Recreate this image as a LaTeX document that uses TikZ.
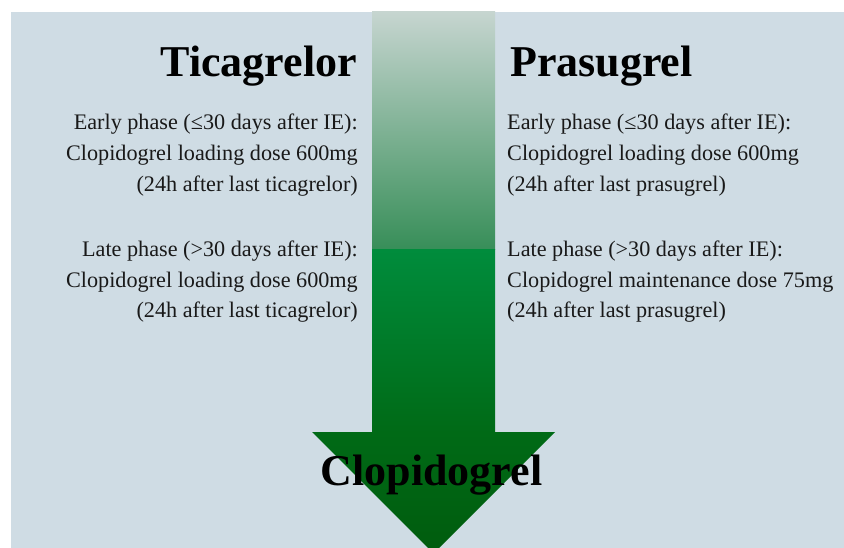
\documentclass[tikz,border=0pt]{standalone}
\usepackage{fontspec}
\setmainfont{Liberation Serif}
\usepackage{xcolor}
\usetikzlibrary{positioning}

\definecolor{panelbg}{RGB}{207,220,228}
\definecolor{textdark}{RGB}{25,25,25}
\definecolor{greenpale}{RGB}{198,213,208}
\definecolor{greenmid}{RGB}{55,142,88}
\definecolor{greenbright}{RGB}{0,140,60}
\definecolor{greendeep}{RGB}{0,106,22}
\definecolor{greendark}{RGB}{0,92,14}

\begin{document}
\begin{tikzpicture}[x=1pt, y=-1pt,
    title/.style={font=\fontsize{44}{50}\selectfont\bfseries, inner sep=0pt, text=black},
    phase/.style={font=\fontsize{22.2}{31}\selectfont, inner sep=0pt, text=textdark},
]
\useasboundingbox (0,0) rectangle (844,548);
\clip (0,0) rectangle (844,548);
\fill[white] (0,0) rectangle (844,548);
\fill[panelbg] (11,12) rectangle (844,548);

% Arrow: shaft in two shaded parts, then the head
\shade[top color=greenpale, middle color=greenpale!45!greenmid, bottom color=greenmid] (372,12) rectangle (495,250);
\shade[top color=greenbright, bottom color=greendeep] (372,250) rectangle (495,432.5);
\shade[top color=greendeep, bottom color=greendark] (312,432) -- (555,432) -- (433.5,553.5) -- cycle;

% Titles
\node[title, anchor=base east] (tica) at (357,77) {Ticagrelor};
\node[title, anchor=base west] (pras) at (510,77) {Prasugrel};

% Switching rules, ticagrelor side (base = last line)
\node[phase, align=right, anchor=base east] (ticaearly) at (358,192)
    {Early phase (≤30 days after IE):\\Clopidogrel loading dose 600mg\\(24h after last ticagrelor)};
\node[phase, align=right, anchor=base east] (ticalate) at (358,318)
    {Late phase (>30 days after IE):\\Clopidogrel loading dose 600mg\\(24h after last ticagrelor)};

% Switching rules, prasugrel side
\node[phase, align=left, anchor=base west] (prasearly) at (507,192)
    {Early phase (≤30 days after IE):\\Clopidogrel loading dose 600mg\\(24h after last prasugrel)};
\node[phase, align=left, anchor=base west] (praslate) at (507,318)
    {Late phase (>30 days after IE):\\Clopidogrel maintenance dose 75mg\\(24h after last prasugrel)};

% Target drug
\node[title, anchor=base] (clop) at (431.5,485) {Clopidogrel};
\end{tikzpicture}
\end{document}
